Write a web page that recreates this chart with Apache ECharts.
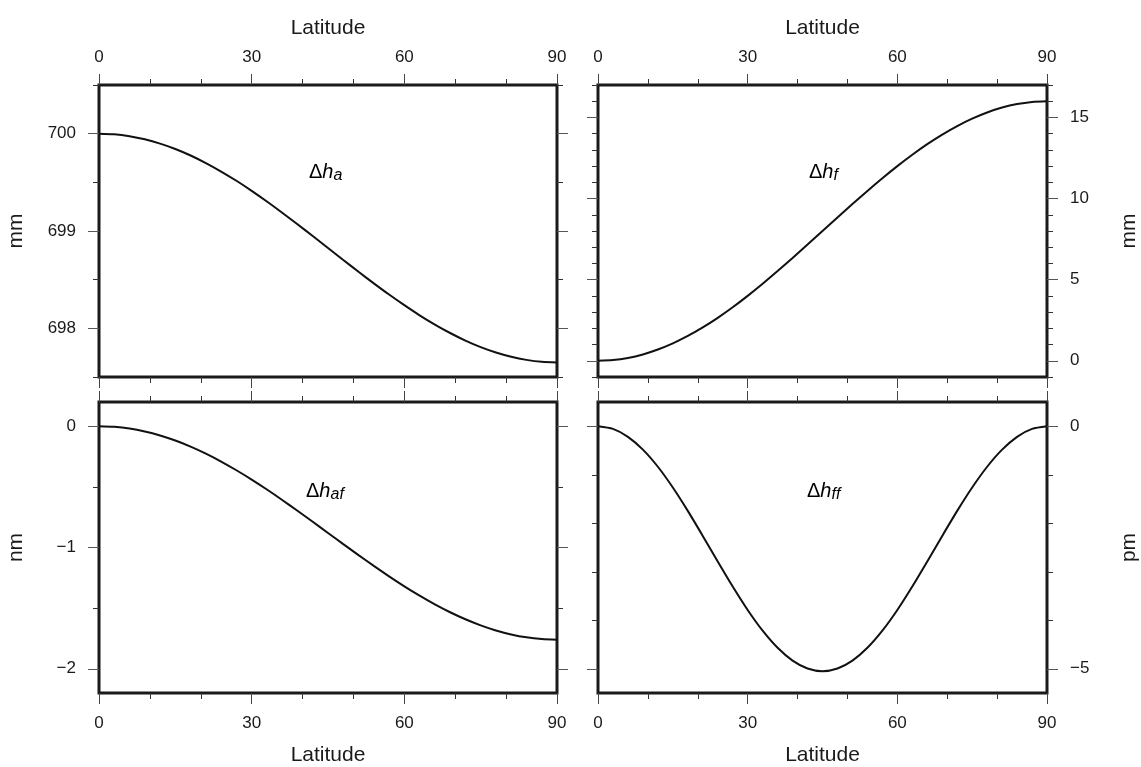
<!DOCTYPE html>
<html lang="en" style="height: 100%">
<head>
  <meta charset="utf-8">
</head>
<body style="height: 100%; margin: 0; background: #fff">
<div id="container" style="height: 100%"></div>

<script type="text/javascript" src="https://cdn.jsdelivr.net/npm/echarts@6/dist/echarts.min.js"></script>

<script type="text/javascript">
  // latitude samples (degrees)
  var latitude = [0, 3, 6, 9, 12, 15, 18, 21, 24, 27, 30, 33, 36, 39, 42, 45,
                  48, 51, 54, 57, 60, 63, 66, 69, 72, 75, 78, 81, 84, 87, 90];

  // values
  var dhA  = [700, 699.994, 699.974, 699.942, 699.898, 699.843, 699.776, 699.698, 699.611, 699.516,
              699.413, 699.303, 699.188, 699.069, 698.948, 698.825, 698.702, 698.581, 698.462, 698.347,
              698.238, 698.134, 698.039, 697.952, 697.874, 697.807, 697.752, 697.708, 697.676, 697.656, 697.65]; // mm
  var dhF  = [0, 0.044, 0.175, 0.392, 0.692, 1.072, 1.528, 2.055, 2.647, 3.298,
              4.0, 4.746, 5.528, 6.337, 7.164, 8.0, 8.836, 9.663, 10.472, 11.254,
              12.0, 12.702, 13.353, 13.945, 14.472, 14.928, 15.308, 15.608, 15.825, 15.956, 16.0];          // mm
  var dhAF = [0, -0.005, -0.019, -0.043, -0.076, -0.118, -0.168, -0.226, -0.291, -0.363,
              -0.44, -0.522, -0.608, -0.697, -0.788, -0.88, -0.972, -1.063, -1.152, -1.238,
              -1.32, -1.397, -1.469, -1.534, -1.592, -1.642, -1.684, -1.717, -1.741, -1.755, -1.76];        // nm
  var dhFF = [0, -0.055, -0.218, -0.482, -0.835, -1.263, -1.745, -2.261, -2.789, -3.305,
              -3.788, -4.215, -4.568, -4.832, -4.995, -5.05, -4.995, -4.832, -4.568, -4.215,
              -3.788, -3.305, -2.789, -2.261, -1.745, -1.263, -0.835, -0.482, -0.218, -0.055, 0];          // pm

  // y ranges and tick values per panel
  var yRangeTL = [697.5, 700.5], yMajorTL = [698, 699, 700], yMinorTL = [697.5, 698.5, 699.5, 700.5];
  var yRangeTR = [-1, 17],       yMajorTR = [0, 5, 10, 15],
      yMinorTR = [-1, 1, 2, 3, 4, 6, 7, 8, 9, 11, 12, 13, 14, 16, 17];
  var yRangeBL = [-2.2, 0.2],    yMajorBL = [-2, -1, 0], yMinorBL = [-1.5, -0.5];
  var yRangeBR = [-5.5, 0.5],    yMajorBR = [-5, 0],     yMinorBR = [-4, -3, -2, -1];

  var xTickLabels = [0, 30, 60, 90];

  var FONT = 'Liberation Sans';
  var INK = '#1a1a1a';

  var dom = document.getElementById('container');
  var myChart = echarts.init(dom, null, { renderer: 'canvas' });

  var grids = [
    { left: 99,  top: 85,  width: 458, height: 292 },
    { left: 598, top: 85,  width: 459, height: 292 },
    { left: 99,  top: 402, width: 458, height: 291 },
    { left: 598, top: 402, width: 459, height: 291 }
  ].map(function (g) {
    return Object.assign({ show: true, borderColor: INK, borderWidth: 3, backgroundColor: 'transparent' }, g);
  });

  function fmt(v) {
    return v < 0 ? '\u2212' + Math.abs(v) : String(v);
  }

  function xAxisFor(gi, pos, labelled) {
    return {
      type: 'value', gridIndex: gi, position: pos,
      min: 0, max: 90, interval: 30,
      name: labelled ? 'Latitude' : '',
      nameLocation: 'middle', nameGap: pos === 'top' ? 46 : 52,
      nameTextStyle: { fontFamily: FONT, fontSize: 21, color: INK },
      axisLine: { show: false, onZero: false },
      axisTick: { show: true, length: 11, lineStyle: { color: '#444', width: 1 } },
      minorTick: { show: true, splitNumber: 3, length: 6, lineStyle: { color: '#333', width: 1 } },
      axisLabel: {
        show: labelled, margin: pos === 'top' ? 19 : 22, fontFamily: FONT, fontSize: 17, color: INK,
        customValues: xTickLabels
      },
      splitLine: { show: false }, minorSplitLine: { show: false }
    };
  }

  function yAxisFor(gi, pos, range, ticks, major, labelled, name) {
    return {
      type: 'value', gridIndex: gi, position: pos,
      min: range[0], max: range[1],
      name: name || '', nameLocation: 'middle', nameGap: 72, nameRotate: 90,
      nameTextStyle: { fontFamily: FONT, fontSize: 21, color: INK },
      axisLine: { show: false, onZero: false },
      axisTick: { show: true, length: major ? 11 : 6, customValues: ticks,
                  lineStyle: { color: major ? '#555' : '#333', width: 1 } },
      axisLabel: {
        show: labelled, margin: 23, fontFamily: FONT, fontSize: 17, color: INK,
        customValues: ticks, formatter: fmt
      },
      splitLine: { show: false }
    };
  }

  var xAxes = [
    xAxisFor(0, 'top', true),  xAxisFor(0, 'bottom', false),
    xAxisFor(1, 'top', true),  xAxisFor(1, 'bottom', false),
    xAxisFor(2, 'top', false), xAxisFor(2, 'bottom', true),
    xAxisFor(3, 'top', false), xAxisFor(3, 'bottom', true)
  ];

  var yAxes = [
    yAxisFor(0, 'left', yRangeTL, yMajorTL, true, true, 'mm'),
    yAxisFor(0, 'left', yRangeTL, yMinorTL, false, false),
    yAxisFor(0, 'right', yRangeTL, yMajorTL, true, false),
    yAxisFor(0, 'right', yRangeTL, yMinorTL, false, false),

    yAxisFor(1, 'left', yRangeTR, yMajorTR, true, false),
    yAxisFor(1, 'left', yRangeTR, yMinorTR, false, false),
    yAxisFor(1, 'right', yRangeTR, yMajorTR, true, true, 'mm'),
    yAxisFor(1, 'right', yRangeTR, yMinorTR, false, false),

    yAxisFor(2, 'left', yRangeBL, yMajorBL, true, true, 'nm'),
    yAxisFor(2, 'left', yRangeBL, yMinorBL, false, false),
    yAxisFor(2, 'right', yRangeBL, yMajorBL, true, false),
    yAxisFor(2, 'right', yRangeBL, yMinorBL, false, false),

    yAxisFor(3, 'left', yRangeBR, yMajorBR, true, false),
    yAxisFor(3, 'left', yRangeBR, yMinorBR, false, false),
    yAxisFor(3, 'right', yRangeBR, yMajorBR, true, true, 'pm'),
    yAxisFor(3, 'right', yRangeBR, yMinorBR, false, false)
  ];

  function pairs(vals) {
    return latitude.map(function (lat, i) { return [lat, vals[i]]; });
  }

  function curve(gi, vals) {
    return {
      type: 'line', xAxisIndex: gi * 2, yAxisIndex: gi * 4,
      data: pairs(vals), showSymbol: false, smooth: 0.25, silent: true,
      lineStyle: { color: '#111', width: 2 }, z: 3
    };
  }

  var richLabel = {
    d: { fontFamily: FONT, fontSize: 20, lineHeight: 24, color: INK },
    h: { fontFamily: FONT, fontSize: 20, lineHeight: 24, fontStyle: 'italic', color: INK },
    s: { fontFamily: FONT, fontSize: 16, lineHeight: 10, fontStyle: 'italic', color: INK, verticalAlign: 'bottom' }
  };

  function tag(x, y, sub) {
    return { type: 'text', left: x, top: y, silent: true,
             style: { text: '{d|\u0394}{h|h}{s|' + sub + '}', rich: richLabel } };
  }

  option = {
    backgroundColor: '#fff',
    animation: false,
    grid: grids,
    xAxis: xAxes,
    yAxis: yAxes,
    series: [curve(0, dhA), curve(1, dhF), curve(2, dhAF), curve(3, dhFF)],
    graphic: [
      tag(309, 162, 'a'),
      tag(809, 162, 'f'),
      tag(306, 481, 'af'),
      tag(807, 481, 'ff')
    ]
  };

  myChart.setOption(option);
  window.addEventListener('resize', myChart.resize);
</script>
</body>
</html>
